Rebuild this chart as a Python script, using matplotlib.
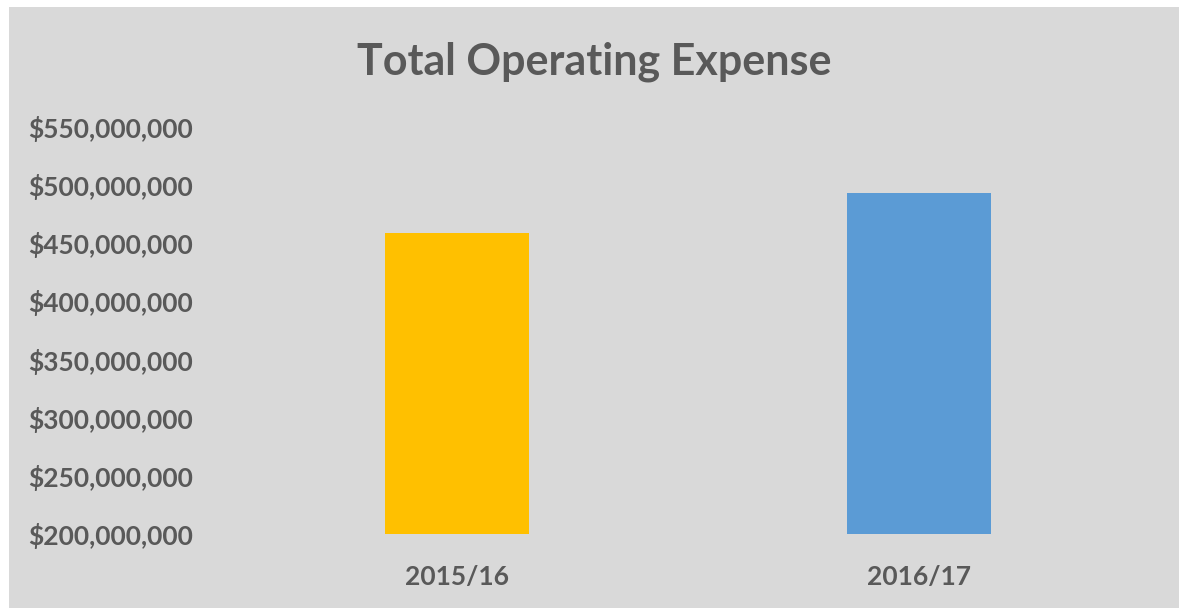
import matplotlib.pyplot as plt
from matplotlib.patches import Rectangle
from matplotlib.ticker import FuncFormatter

# data
years = ['2015/16', '2016/17']
expense = [459000000, 493000000]
bar_colors = ['#FFC000', '#5B9BD5']
y_ticks = [200000000, 250000000, 300000000, 350000000,
           400000000, 450000000, 500000000, 550000000]

text_gray = '#595959'
plt.rcParams['font.family'] = ['Lato', 'DejaVu Sans']

fig = plt.figure(figsize=(11.83, 6.08), dpi=100, facecolor='white')

# gray chart area with a thin white margin around it
fig.patches.append(Rectangle((9 / 1183, 0), 1170 / 1183, 601 / 608,
                             transform=fig.transFigure, facecolor='#D9D9D9',
                             edgecolor='none', zorder=-10))

ax = fig.add_axes([226 / 1183, 74 / 608, 924 / 1183, 407 / 608])
ax.set_facecolor('none')

x = range(len(years))
ax.bar(x, expense, width=0.31, color=bar_colors)

ax.set_xlim(-0.5, len(years) - 0.5)
ax.set_ylim(200000000, 550000000)
ax.set_yticks(y_ticks)
ax.yaxis.set_major_formatter(FuncFormatter(lambda v, p: f'${v:,.0f}'))
ax.set_xticks(list(x))
ax.set_xticklabels(years)

for s in ax.spines.values():
    s.set_visible(False)
ax.tick_params(axis='both', length=0, colors=text_gray, labelsize=19)
ax.tick_params(axis='y', pad=24)
ax.tick_params(axis='x', pad=22)
for lbl in ax.get_xticklabels() + ax.get_yticklabels():
    lbl.set_fontweight('bold')

fig.text(594 / 1183, 1 - 62 / 608, 'Total Operating Expense', ha='center',
         va='center', fontsize=31, fontweight='bold', color=text_gray)

plt.savefig('out.png', dpi=100)
plt.close()
